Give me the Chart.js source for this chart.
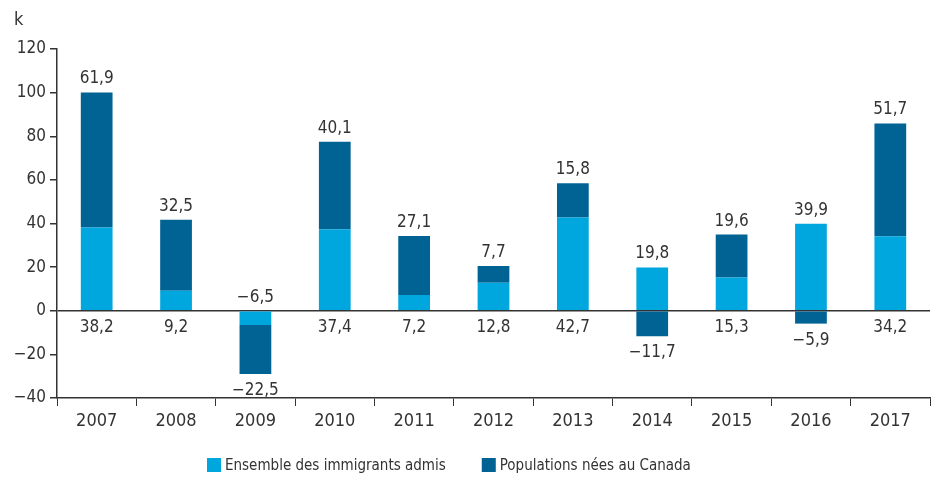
<!DOCTYPE html>
<html>
<head>
<meta charset="utf-8">
<script src="https://cdn.jsdelivr.net/npm/chart.js@4.4.1/dist/chart.umd.min.js"></script>
<style>
  html, body { margin: 0; padding: 0; background: #fff; }
  #wrap { width: 938px; height: 477px; position: relative; }
</style>
</head>
<body>
<div id="wrap"><canvas id="c"></canvas></div>
<script>
const years = ['2007','2008','2009','2010','2011','2012','2013','2014','2015','2016','2017'];
const immigrants = [38.2, 9.2, -6.5, 37.4, 7.2, 12.8, 42.7, 19.8, 15.3, 39.9, 34.2];
const canadaBorn = [61.9, 32.5, -22.5, 40.1, 27.1, 7.7, 15.8, -11.7, 19.6, -5.9, 51.7];
const seriesNames = ['Ensemble des immigrants admis', 'Populations nées au Canada'];
const yTicks = { min: -40, max: 120, step: 20 };
const unitLabel = 'k';

const FONT = '"Liberation Sans Narrow", "DejaVu Sans Condensed", "Roboto", sans-serif';
const TXT = '#333333';
const LIGHT = '#00a6de';
const DARK = '#006394';

function fmt(v) {
  const s = Math.abs(v).toFixed(1).replace('.', ',');
  return (v < 0 ? '\u2212' : '') + s;
}

const labelPlugin = {
  id: 'valueLabels',
  afterDatasetsDraw(chart) {
    const ctx = chart.ctx;
    const m0 = chart.getDatasetMeta(0), m1 = chart.getDatasetMeta(1);
    const zeroY = chart.scales.y.getPixelForValue(0);
    ctx.save();
    ctx.font = '17px ' + FONT;
    ctx.fillStyle = TXT;
    ctx.textAlign = 'center';
    const up = 5, down = 8;
    years.forEach((yr, i) => {
      const a = immigrants[i], b = canadaBorn[i];
      const e0 = m0.data[i], e1 = m1.data[i];
      if (b >= 0) { ctx.textBaseline = 'bottom'; ctx.fillText(fmt(b), e1.x, e1.y - up); }
      else { ctx.textBaseline = 'top'; ctx.fillText(fmt(b), e1.x, e1.y + down); }
      if (a < 0) { ctx.textBaseline = 'bottom'; ctx.fillText(fmt(a), e0.x, zeroY - up); }
      else if (b < 0) { ctx.textBaseline = 'bottom'; ctx.fillText(fmt(a), e0.x, e0.y - up); }
      else { ctx.textBaseline = 'top'; ctx.fillText(fmt(a), e0.x, zeroY + down); }
    });
    ctx.restore();
  },
  afterDraw(chart) {
    const ctx = chart.ctx;
    ctx.save();
    ctx.font = '18px ' + FONT;
    ctx.fillStyle = TXT;
    ctx.textAlign = 'left';
    ctx.textBaseline = 'middle';
    ctx.fillText(unitLabel, 14, 20);
    ctx.font = '15px ' + FONT;
    let x = 207;
    const yc = 465;
    chart.data.datasets.forEach((ds, i) => {
      ctx.fillStyle = ds.backgroundColor;
      ctx.fillRect(x, yc - 7, 14, 14);
      x += 14 + 4;
      ctx.fillStyle = TXT;
      ctx.fillText(ds.label, x, yc + 1);
      x += ctx.measureText(ds.label).width + 36;
    });
    ctx.restore();
  }
};

new Chart(document.getElementById('c'), {
  type: 'bar',
  data: {
    labels: years,
    datasets: [
      { label: seriesNames[0], data: immigrants, backgroundColor: LIGHT, barPercentage: 0.4, categoryPercentage: 1.0 },
      { label: seriesNames[1], data: canadaBorn, backgroundColor: DARK, barPercentage: 0.4, categoryPercentage: 1.0 }
    ]
  },
  options: {
    responsive: true,
    maintainAspectRatio: false,
    animation: false,
    layout: { padding: { left: 0, right: 8, top: 49, bottom: 39 } },
    plugins: { legend: { display: false }, tooltip: { enabled: false } },
    scales: {
      x: {
        stacked: true,
        grid: { display: true, drawOnChartArea: false, drawTicks: true, tickLength: 8, color: TXT, offset: true },
        border: { display: true, color: TXT, width: 1.5 },
        ticks: { color: TXT, font: { family: FONT, size: 18 }, padding: 5 },
        afterFit(s) { s.height = 40; }
      },
      y: {
        stacked: true,
        min: yTicks.min, max: yTicks.max,
        grid: {
          display: true, drawOnChartArea: true, drawTicks: true, tickLength: 7,
          color: (c) => (c.tick && c.tick.value === 0) ? TXT : 'rgba(0,0,0,0)',
          lineWidth: 1.5,
          tickColor: TXT, tickWidth: 1.5
        },
        border: { display: true, color: TXT, width: 1.5 },
        ticks: { stepSize: yTicks.step, color: TXT, font: { family: FONT, size: 17 }, padding: 4,
                 callback: (v) => (v < 0 ? '\u2212' + Math.abs(v) : String(v)) },
        afterFit(s) { s.width = 57; }
      }
    }
  },
  plugins: [labelPlugin]
});
</script>
</body>
</html>
